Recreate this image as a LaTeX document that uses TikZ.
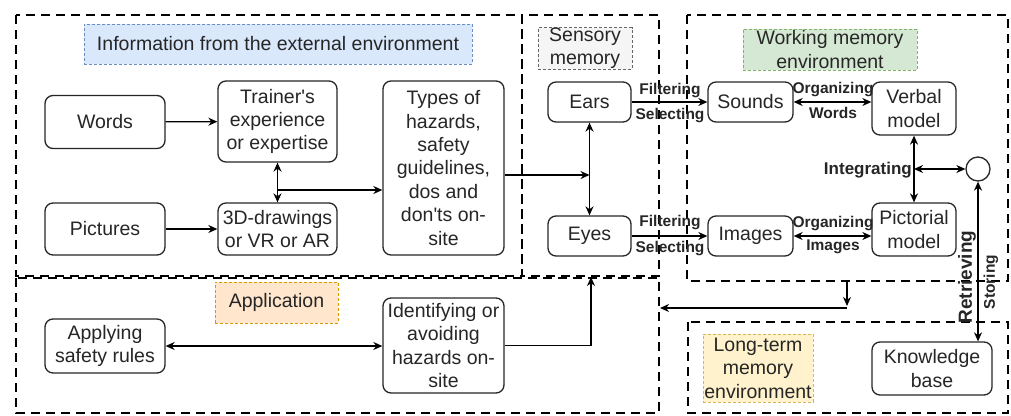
\documentclass[tikz,border=0pt]{standalone}
\usepackage{fontspec}
\setmainfont{Liberation Sans}
\usetikzlibrary{arrows.meta}
\definecolor{blueF}{HTML}{DAE8FC}\definecolor{blueD}{HTML}{6C8EBF}
\definecolor{grayF}{HTML}{F5F5F5}\definecolor{grayD}{HTML}{666666}
\definecolor{greenF}{HTML}{D5E8D4}\definecolor{greenD}{HTML}{82B366}
\definecolor{orangeF}{HTML}{FFE6CC}\definecolor{orangeD}{HTML}{D79B00}
\definecolor{yellowF}{HTML}{FFF2CC}\definecolor{yellowD}{HTML}{D6B656}
\definecolor{txt}{HTML}{262626}
\tikzset{
  box/.style={draw=txt, line width=1.3pt, rounded corners=8pt, fill=white, align=center,
    inner sep=0pt, font=\fontsize{19.5}{23.4}\selectfont, text=txt},
  region/.style={draw=black, line width=2pt, dash pattern=on 9pt off 6pt},
  tag/.style={line width=1pt, dash pattern=on 3pt off 2pt, align=center, inner sep=0pt,
    font=\fontsize{19.5}{23.4}\selectfont, text=txt},
  lbl/.style={font=\bfseries\fontsize{15.5}{18}\selectfont, inner sep=0pt, text=txt},
  conn/.style={line width=1.3pt, -{Stealth[length=9pt,width=8pt]}},
  dconn/.style={line width=1.3pt, {Stealth[length=9pt,width=8pt]}-{Stealth[length=9pt,width=8pt]}},
  plain/.style={line width=1.3pt}
}
\begin{document}
\begin{tikzpicture}[x=1pt,y=-1pt]
\useasboundingbox (0,0) rectangle (1011,415);
% regions
\draw[region] (16,15) rectangle (522,276);
\draw[region] (522,15) rectangle (659,276);
\draw[region] (687,15) rectangle (1008,281);
\draw[region] (16,278) rectangle (659,413);
\draw[region] (688,322) rectangle (1008,413);
% tags
\node[tag, draw=blueD, fill=blueF, minimum width=388pt, minimum height=40pt] (tinfo) at (278,44) {Information from the external environment};
\node[tag, draw=grayD, fill=grayF, minimum width=94pt, minimum height=39pt] (tsens) at (585,48.5) {Sensory\\memory};
\node[tag, draw=greenD, fill=greenF, minimum width=174pt, minimum height=41pt] (twm) at (830,49.5) {Working memory\\environment};
\node[tag, draw=orangeD, fill=orangeF, minimum width=123pt, minimum height=41pt] (tapp) at (276.5,302.5) {Application};
\node[tag, draw=yellowD, fill=yellowF, minimum width=110pt, minimum height=68pt] (tlt) at (758,368) {Long-term\\memory\\environment};
% boxes
\node[box, minimum width=120pt, minimum height=53pt] (words) at (105,122) {Words};
\node[box, minimum width=120pt, minimum height=52pt] (pics) at (105,229) {Pictures};
\node[box, minimum width=119pt, minimum height=81pt] (trainer) at (277.5,121.5) {Trainer\textquotesingle s\\experience\\or expertise};
\node[box, minimum width=119pt, minimum height=52pt] (threed) at (277.5,229) {3D-drawings\\or VR or AR};
\node[box, minimum width=121pt, minimum height=174pt] (types) at (443.5,168) {Types of\\hazards,\\safety\\guidelines,\\dos and\\don\textquotesingle ts on-\\site};
\node[box, minimum width=83pt, minimum height=40pt] (ears) at (589.5,102) {Ears};
\node[box, minimum width=83pt, minimum height=40pt] (eyes) at (589.5,236) {Eyes};
\node[box, minimum width=85pt, minimum height=40pt] (sounds) at (750.5,102) {Sounds};
\node[box, minimum width=85pt, minimum height=40pt] (images) at (750.5,236) {Images};
\node[box, minimum width=84pt, minimum height=53pt] (verbal) at (914,108.5) {Verbal\\model};
\node[box, minimum width=84pt, minimum height=53pt] (pict) at (914,229.5) {Pictorial\\model};
\node[draw=txt, line width=1.3pt, circle, minimum size=24pt, inner sep=0pt, fill=white] (circ) at (978,169) {};
\node[box, minimum width=120pt, minimum height=54pt] (apply) at (105,346) {Applying\\safety rules};
\node[box, minimum width=121pt, minimum height=95pt] (ident) at (443.5,345.5) {Identifying or\\avoiding\\hazards on-\\site};
\node[box, minimum width=120pt, minimum height=53pt] (kb) at (932,368.5) {Knowledge\\base};
% connectors: external environment
\draw[conn] (words) -- (trainer);
\draw[conn] (pics) -- (threed);
\draw[dconn] (trainer) -- (threed);
\coordinate (tj) at (277.5,190);
\draw[conn] (tj) -- (tj -| types.west);
\coordinate (ej) at (589.5,175);
\draw[conn] (types.east |- ej) -- (ej);
\draw[dconn] (ears) -- (eyes);
% sensory -> working memory
\draw[conn] (ears) -- (sounds);
\node[lbl] (f1) at (670,91) {Filtering};
\node[lbl] (s1) at (670,116) {Selecting};
\draw[conn] (eyes) -- (images);
\node[lbl] (f2) at (670,223) {Filtering};
\node[lbl] (s2) at (670,249) {Selecting};
\draw[dconn] (sounds) -- (sounds -| verbal.west);
\node[lbl] (o1) at (833,90) {Organizing};
\node[lbl] (w1) at (833,113) {Words};
\draw[dconn] (images) -- (images -| pict.west);
\node[lbl] (o2) at (833,224) {Organizing};
\node[lbl] (i2) at (833,247) {Images};
\draw[dconn] (verbal) -- (pict);
\coordinate (ij) at (914,169);
\draw[dconn] (ij) -- (circ);
\node[lbl, anchor=east, font=\bfseries\fontsize{17}{20}\selectfont] (integ) at (912,170) {Integrating};
% long-term memory
\draw[dconn] (circ) -- (circ |- kb.north);
\node[lbl, rotate=90, font=\bfseries\fontsize{19}{22}\selectfont] (retr) at (967,277) {Retrieving};
\node[lbl, rotate=90] (stor) at (991,282) {Storing};
% working memory -> application
\coordinate (wm1) at (847,281);
\coordinate (wm2) at (847,306);
\coordinate (wm3) at (847,308);
\coordinate (appR) at (660,308);
\draw[conn] (wm1) -- (wm2);
\draw[conn] (wm3) -- (appR);
% application
\draw[dconn] (apply) -- (apply -| ident.west);
\coordinate (up) at (591,277);
\draw[conn] (ident.east) -| (up);
\end{tikzpicture}
\end{document}
